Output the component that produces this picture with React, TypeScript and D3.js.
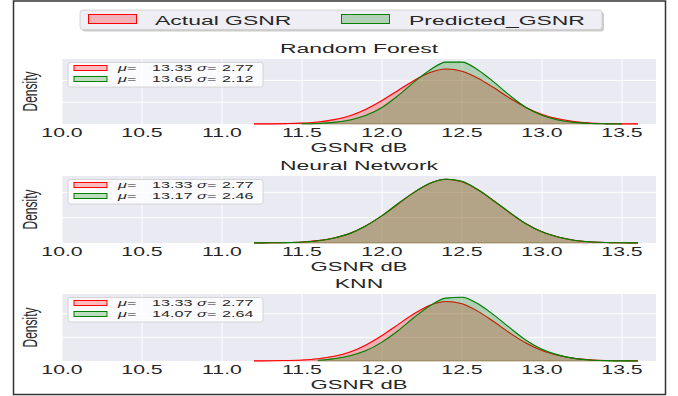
import * as d3 from "d3"

// GSNR grid (dB) the densities are read on
const gsnrGrid = [
  11.2, 11.3, 11.4, 11.5, 11.6, 11.7, 11.8, 11.9, 12.0, 12.1, 12.2, 12.3, 12.4,
  12.5, 12.6, 12.7, 12.8, 12.9, 13.0, 13.1, 13.2, 13.3, 13.4, 13.5, 13.6,
]

// actual GSNR density (same in every panel)
const actualDensity = [
  0.002, 0.004, 0.009, 0.02, 0.047, 0.1, 0.19, 0.34, 0.54, 0.77, 1.0, 1.18, 1.26,
  1.21, 1.05, 0.83, 0.59, 0.38, 0.22, 0.12, 0.055, 0.024, 0.009, 0.004, 0.002,
]

// predicted densities, null = outside the curve
const rfDensity = [
  null, null, null, 0.004, 0.013, 0.037, 0.09, 0.2, 0.38, 0.65, 0.96, 1.24, 1.42,
  1.42, 1.24, 0.96, 0.65, 0.38, 0.2, 0.09, 0.037, 0.013, 0.004, 0.001, null,
]
const nnDensity = [
  0.002, 0.004, 0.008, 0.019, 0.045, 0.098, 0.19, 0.34, 0.54, 0.78, 1.0, 1.18, 1.26,
  1.22, 1.05, 0.83, 0.6, 0.38, 0.22, 0.12, 0.055, 0.024, 0.01, 0.004, 0.002,
]
const knnDensity = [
  null, null, null, null, 0.015, 0.047, 0.11, 0.22, 0.4, 0.64, 0.92, 1.17, 1.33,
  1.35, 1.21, 0.97, 0.7, 0.44, 0.25, 0.13, 0.056, 0.022, 0.008, 0.003, 0.001,
]

const modelNames = ["Random Forest", "Neural Network", "KNN"]
const predicted = [rfDensity, nnDensity, knnDensity]
const actualMu = "13.33"
const actualSigma = "2.77"
const predMu = ["13.65", "13.17", "14.07"]
const predSigma = ["2.12", "2.46", "2.64"]
const xTicks = [10.0, 10.5, 11.0, 11.5, 12.0, 12.5, 13.0, 13.5]
const yGrid = [0.5, 1.0, 1.5]

const W = 678
const H = 396
const SX = 1.7 // the figure is stretched sideways
const font = "'Liberation Sans', Arial, sans-serif"
const ink = "#262626"
const left = 62
const right = 656
const tops = [59, 176, 294]
const bottoms = [124, 243, 361]

const x = d3.scaleLinear().domain([10, 10 + (right - left) / 160]).range([left, right])

const Txt = ({ x, y, size, children, anchor = "start", rotate = 0, ...rest }: any) => (
  <text
    transform={`translate(${x},${y}) scale(${SX},1)${rotate ? ` rotate(${rotate})` : ""}`}
    fontSize={size}
    fontFamily={font}
    fill={ink}
    textAnchor={anchor}
    {...rest}
  >
    {children}
  </text>
)

// mathtext-like "μ =  13.33 σ = 2.77", pieces placed like the reference
const Stats = ({ x, y, mu, sigma }: any) => (
  <g>
    <Txt x={x} y={y} size={9.5} fontStyle="italic">μ</Txt>
    <Txt x={x + 9} y={y} size={9.5}>=</Txt>
    <Txt x={x + 34} y={y} size={9.5}>{mu}</Txt>
    <Txt x={x + 79} y={y} size={9.5} fontStyle="italic">σ</Txt>
    <Txt x={x + 89} y={y} size={9.5}>=</Txt>
    <Txt x={x + 104} y={y} size={9.5}>{sigma}</Txt>
  </g>
)

const Panel = ({ i }: { i: number }) => {
  const top = tops[i]
  const bottom = bottoms[i]
  const pred = predicted[i]
  const ymax = 1.05 * d3.max([...actualDensity, ...(pred.filter((d) => d != null) as number[])])!
  const y = d3.scaleLinear().domain([0, ymax]).range([bottom, top])

  const pts = (vals: (number | null)[]) =>
    gsnrGrid.map((g, k) => ({ g, v: vals[k] })).filter((d) => d.v != null) as { g: number; v: number }[]
  const area = d3
    .area<{ g: number; v: number }>()
    .x((d) => x(d.g))
    .y0(y(0))
    .y1((d) => y(d.v))
    .curve(d3.curveMonotoneX)
  const line = d3
    .line<{ g: number; v: number }>()
    .x((d) => x(d.g))
    .y((d) => y(d.v))
    .curve(d3.curveMonotoneX)

  const series = [
    { vals: actualDensity, color: "red" },
    { vals: pred, color: "green" },
  ]

  return (
    <g>
      <rect x={left} y={top} width={right - left} height={bottom - top} fill="#eaeaf2" />
      {xTicks.map((t) => (
        <line key={t} x1={x(t)} x2={x(t)} y1={top} y2={bottom} stroke="#fff" strokeWidth={1} />
      ))}
      {yGrid
        .filter((t) => y(t) > top + 0.5)
        .map((t) => (
          <line key={t} x1={left} x2={right} y1={y(t)} y2={y(t)} stroke="#fff" strokeWidth={1} />
        ))}
      {series.map((s) => {
        const p = pts(s.vals)
        return (
          <g key={s.color}>
            <path d={area(p)!} fill={s.color} fillOpacity={0.25} stroke={s.color} strokeOpacity={0.25} strokeWidth={1} />
            <path d={line(p)!} fill="none" stroke={s.color} strokeWidth={1.1} />
          </g>
        )
      })}
      {xTicks.map((t) => (
        <Txt key={t} x={x(t)} y={bottom + 13} size={12.5} anchor="middle">
          {t.toFixed(1)}
        </Txt>
      ))}
      <Txt x={(left + right) / 2} y={top - 6} size={13.5} anchor="middle">
        {modelNames[i]}
      </Txt>
      <Txt x={(left + right) / 2} y={bottom + 27.5} size={13} anchor="middle">
        GSNR dB
      </Txt>
      <Txt x={36.5} y={(top + bottom) / 2} size={12} anchor="middle" rotate={-90}>
        Density
      </Txt>
      {/* inner legend */}
      <rect x={68} y={top + 3.5} width={195} height={24.5} rx={2.5} fill="#fff" fillOpacity={0.8} stroke="#cccccc" strokeWidth={0.8} />
      <rect x={74} y={top + 6.5} width={33} height={5} fill="red" fillOpacity={0.25} stroke="red" strokeWidth={1} />
      <rect x={74} y={top + 17.5} width={33} height={5} fill="green" fillOpacity={0.25} stroke="green" strokeWidth={1} />
      <Stats x={118} y={top + 11.5} mu={actualMu} sigma={actualSigma} />
      <Stats x={118} y={top + 23} mu={predMu[i]} sigma={predSigma[i]} />
    </g>
  )
}

export default function App() {
  return (
    <svg width={W} height={H} style={{ position: "absolute", left: 0, top: 0, background: "#fff" }}>
      <rect x={13.5} y={1} width={652} height={393.5} fill="#fff" stroke="#333" strokeWidth={1.5} />
      {/* top legend */}
      <rect x={82} y={12} width={522} height={19.5} rx={3} fill="#999" fillOpacity={0.5} />
      <rect x={80} y={10} width={522} height={19.5} rx={3} fill="#eeeef4" stroke="#cccccc" strokeWidth={0.8} />
      <rect x={88.5} y={14.5} width={48} height={9} fill="red" fillOpacity={0.25} stroke="red" strokeWidth={1} />
      <rect x={341.5} y={14.5} width={48} height={9} fill="green" fillOpacity={0.25} stroke="green" strokeWidth={1} />
      <Txt x={155} y={24.5} size={13.5}>Actual GSNR</Txt>
      <Txt x={409} y={24.5} size={13.5}>Predicted_GSNR</Txt>
      {modelNames.map((_, i) => (
        <Panel key={i} i={i} />
      ))}
    </svg>
  )
}
